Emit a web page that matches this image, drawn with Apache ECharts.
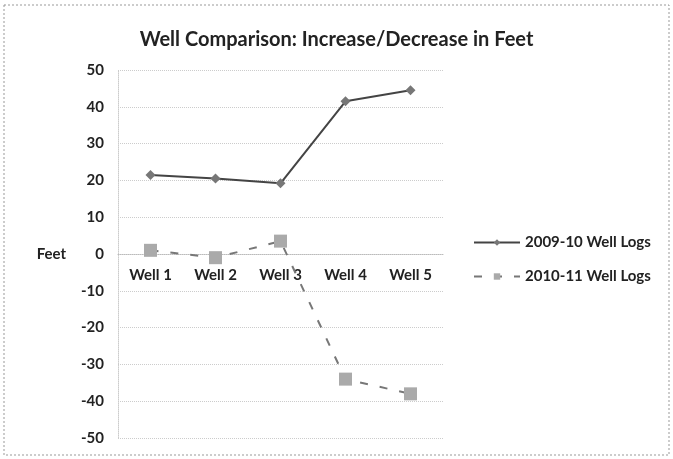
<!DOCTYPE html>
<html><head><meta charset="utf-8">
<script src="https://cdn.jsdelivr.net/npm/echarts@6/dist/echarts.min.js"></script>
<style>html,body{margin:0;padding:0;background:#fff}#c{width:673px;height:459px}</style>
</head><body><div id="c"></div>
<script>
const categories = ['Well 1','Well 2','Well 3','Well 4','Well 5'];
const logs0910 = [21.5, 20.5, 19.2, 41.5, 44.5];
const logs1011 = [1, -1, 3.5, -34, -38];
const seriesNames = ['2009-10 Well Logs','2010-11 Well Logs'];
const font = 'Lato';
const gridTop = 70, gridBottom = 21, H = 459;
const chart = echarts.init(document.getElementById('c'));
chart.setOption({
  backgroundColor:'#fff',
  animation:false,
  title:{text:'Well Comparison: Increase/Decrease in Feet',left:'center',top:25,
    textStyle:{fontFamily:font,fontSize:20,fontWeight:'bold',color:'#222'}},
  grid:{left:118,right:230,top:gridTop,bottom:gridBottom},
  legend:{orient:'vertical',left:468,top:230,itemGap:19,itemWidth:46,itemHeight:8,
    textStyle:{fontFamily:font,fontSize:15,fontWeight:'bold',color:'#222'},
    data:seriesNames},
  xAxis:{type:'category',data:categories,
    offset:-(H-gridTop-gridBottom)/2,
    axisLine:{onZero:false,lineStyle:{color:'#bbb',type:'dotted'}},
    axisTick:{show:false},
    axisLabel:{fontFamily:font,fontSize:15,fontWeight:'bold',color:'#222',margin:14}},
  yAxis:{type:'value',min:-50,max:50,interval:10,
    name:'Feet',nameLocation:'middle',nameRotate:0,nameGap:52,
    nameTextStyle:{fontFamily:font,fontSize:15,fontWeight:'bold',color:'#222'},
    axisLine:{show:true,lineStyle:{color:'#ccc',type:'dotted'}},
    axisTick:{show:false},
    axisLabel:{fontFamily:font,fontSize:15,fontWeight:'bold',color:'#222',margin:14},
    splitLine:{lineStyle:{color:'#ccc',type:'dotted'}}},
  graphic:[{type:'rect',shape:{x:4,y:5,width:665,height:450},
    style:{fill:'none',stroke:'#999',lineWidth:1,lineDash:[2,2]}}],
  series:[
    {name:seriesNames[0],type:'line',data:logs0910,symbol:'diamond',symbolSize:10,
      lineStyle:{color:'#444',width:2},itemStyle:{color:'#777'}},
    {name:seriesNames[1],type:'line',data:logs1011,symbol:'rect',symbolSize:13,
      lineStyle:{color:'#777',width:2,type:[8,12]},itemStyle:{color:'#aaa'}}
  ]
});
</script></body></html>
